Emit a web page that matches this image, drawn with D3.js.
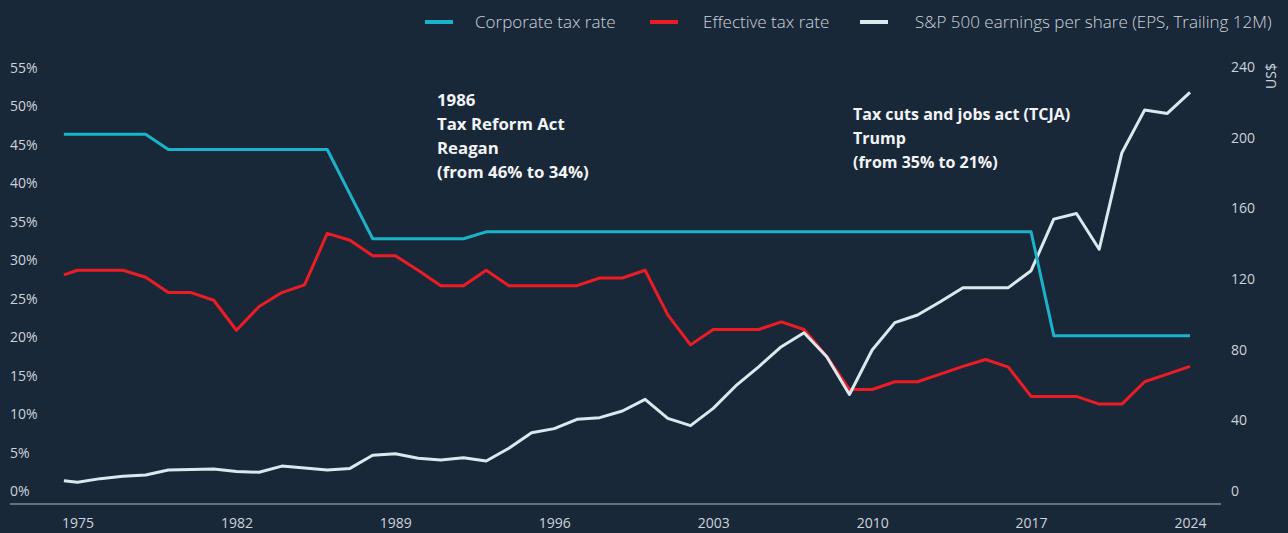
<!DOCTYPE html>
<html>
<head>
<meta charset="utf-8">
<script src="https://cdn.jsdelivr.net/npm/d3@7"></script>
<style>
  html, body { margin: 0; padding: 0; background: #192839; }
  svg { display: block; }
</style>
</head>
<body>
<svg width="1288" height="533"></svg>
<script>
// years (first point sits a little before 1975 in the source)
var years = [1974.4, 1975, 1976, 1977, 1978, 1979, 1980, 1981, 1982, 1983, 1984,
  1985, 1986, 1987, 1988, 1989, 1990, 1991, 1992, 1993, 1994, 1995, 1996, 1997,
  1998, 1999, 2000, 2001, 2002, 2003, 2004, 2005, 2006, 2007, 2008, 2009, 2010,
  2011, 2012, 2013, 2014, 2015, 2016, 2017, 2018, 2019, 2020, 2021, 2022, 2023, 2024];

var corporateRate = [46.4, 46.4, 46.4, 46.4, 46.4, 44.4, 44.4, 44.4, 44.4, 44.4, 44.4,
  44.4, 44.4, 38.6, 32.8, 32.8, 32.8, 32.8, 32.8, 33.7, 33.7, 33.7, 33.7, 33.7,
  33.7, 33.7, 33.7, 33.7, 33.7, 33.7, 33.7, 33.7, 33.7, 33.7, 33.7, 33.7, 33.7,
  33.7, 33.7, 33.7, 33.7, 33.7, 33.7, 33.7, 20.2, 20.2, 20.2, 20.2, 20.2, 20.2, 20.2];

var effectiveRate = [28.1, 28.7, 28.7, 28.7, 27.8, 25.8, 25.8, 24.8, 20.9, 24.0, 25.8,
  26.8, 33.5, 32.6, 30.6, 30.6, 28.7, 26.7, 26.7, 28.7, 26.7, 26.7, 26.7, 26.7,
  27.7, 27.7, 28.7, 22.9, 19.0, 21.0, 21.0, 21.0, 22.0, 21.0, 17.5, 13.2, 13.2,
  14.2, 14.2, 15.2, 16.2, 17.1, 16.1, 12.3, 12.3, 12.3, 11.3, 11.3, 14.2, 15.2, 16.2];

var eps = [5.8, 4.9, 7.0, 8.3, 9.1, 11.9, 12.1, 12.5, 11.1, 10.6, 14.1,
  13.0, 11.9, 12.8, 20.2, 21.1, 18.5, 17.5, 18.8, 17.0, 24.2, 33.0, 35.3, 40.6,
  41.5, 45.3, 51.9, 41.1, 37.0, 46.8, 59.6, 70.3, 81.7, 89.6, 76.0, 54.6, 79.8,
  95.3, 99.6, 107.1, 115.1, 115.1, 115.1, 124.7, 153.9, 157.1, 136.8, 191.5, 215.6, 213.7, 225.6];

var xTicks = [1975, 1982, 1989, 1996, 2003, 2010, 2017, 2024];
var leftTicks = [0, 5, 10, 15, 20, 25, 30, 35, 40, 45, 50, 55];
var rightTicks = [0, 40, 80, 120, 160, 200, 240];

var seriesNames = ["Corporate tax rate", "Effective tax rate", "S&P 500 earnings per share (EPS, Trailing 12M)"];
var seriesColors = ["#1ab3c9", "#ec1c24", "#dbe9ef"];

var notes = [
  {x: 437, y: 100, lines: ["1986", "Tax Reform Act", "Reagan", "(from 46% to 34%)"]},
  {x: 853, y: 114, lines: ["Tax cuts and jobs act (TCJA)", "Trump", "(from 35% to 21%)"]}
];

var svg = d3.select("svg");
var font = "'Open Sans', sans-serif";
var textColor = "#cdd3d9";

var xScale = d3.scaleLinear().domain([1975, 2024]).range([77.5, 1190]);
var yLeft = d3.scaleLinear().domain([0, 55]).range([491, 68]);
var yRight = d3.scaleLinear().domain([0, 240]).range([491, 67]);

// x axis
var xAxis = svg.append("g")
  .attr("transform", "translate(0,504)")
  .call(d3.axisBottom(xScale).tickValues(xTicks).tickFormat(d3.format("d")).tickSize(0).tickPadding(14));
xAxis.select(".domain").remove();
xAxis.selectAll("text")
  .style("font-family", font)
  .style("font-size", "14px")
  .style("fill", textColor);

svg.append("line")
  .attr("x1", 10).attr("x2", 1221)
  .attr("y1", 504).attr("y2", 504)
  .style("stroke", "#66717c")
  .style("stroke-width", 2);

// left axis
var la = svg.append("g")
  .attr("transform", "translate(10,0)")
  .call(d3.axisLeft(yLeft).tickValues(leftTicks).tickFormat(function (d) { return d + "%"; }).tickSize(0));
la.select(".domain").remove();
la.selectAll("text")
  .attr("text-anchor", "start")
  .attr("x", 0)
  .style("font-family", font)
  .style("font-size", "14px")
  .style("fill", textColor);

// right axis
var ra = svg.append("g")
  .attr("transform", "translate(1231,0)")
  .call(d3.axisRight(yRight).tickValues(rightTicks).tickSize(0));
ra.select(".domain").remove();
ra.selectAll("text")
  .attr("x", 0)
  .style("font-family", font)
  .style("font-size", "14px")
  .style("fill", textColor);

svg.append("text")
  .attr("text-anchor", "middle")
  .attr("transform", "translate(1276,76) rotate(-90)")
  .style("font-family", font)
  .style("font-size", "14px")
  .style("fill", textColor)
  .text("US$");

// lines
var lineLeft = d3.line()
  .x(function (d, i) { return xScale(years[i]); })
  .y(function (d) { return yLeft(d); });
var lineRight = d3.line()
  .x(function (d, i) { return xScale(years[i]); })
  .y(function (d) { return yRight(d); });

svg.append("path")
  .datum(effectiveRate)
  .attr("d", lineLeft)
  .style("fill", "none")
  .style("stroke", seriesColors[1])
  .style("stroke-width", 3)
  .style("stroke-linejoin", "round");

svg.append("path")
  .datum(eps)
  .attr("d", lineRight)
  .style("fill", "none")
  .style("stroke", seriesColors[2])
  .style("stroke-width", 3)
  .style("stroke-linejoin", "round");

svg.append("path")
  .datum(corporateRate)
  .attr("d", lineLeft)
  .style("fill", "none")
  .style("stroke", seriesColors[0])
  .style("stroke-width", 3)
  .style("stroke-linejoin", "round");

// annotations
var noteSize = ["16.8px", "16px"];
notes.forEach(function (n, k) {
  var t = svg.append("text")
    .attr("x", n.x).attr("y", n.y)
    .style("font-family", font)
    .style("font-size", noteSize[k])
    .style("font-weight", "bold")
    .style("fill", "#f2f4f6");
  t.selectAll("tspan")
    .data(n.lines)
    .enter()
    .append("tspan")
    .attr("x", n.x)
    .attr("dy", function (d, i) { return i === 0 ? "0.35em" : 24; })
    .text(function (d) { return d; });
});

// legend
var legendX = [425, 650, 860];
var legendTextX = [50, 53, 55];
var lg = svg.append("g").selectAll("g")
  .data(seriesNames)
  .enter()
  .append("g")
  .attr("transform", function (d, i) { return "translate(" + legendX[i] + ",22)"; });
lg.append("line")
  .attr("x1", 0).attr("x2", 28)
  .style("stroke", function (d, i) { return seriesColors[i]; })
  .style("stroke-width", 4);
lg.append("text")
  .attr("x", function (d, i) { return legendTextX[i]; })
  .attr("dy", "0.35em")
  .style("font-family", font)
  .style("font-size", "17px")
  .style("font-weight", 300)
  .style("fill", textColor)
  .text(function (d) { return d; });
</script>
</body>
</html>
